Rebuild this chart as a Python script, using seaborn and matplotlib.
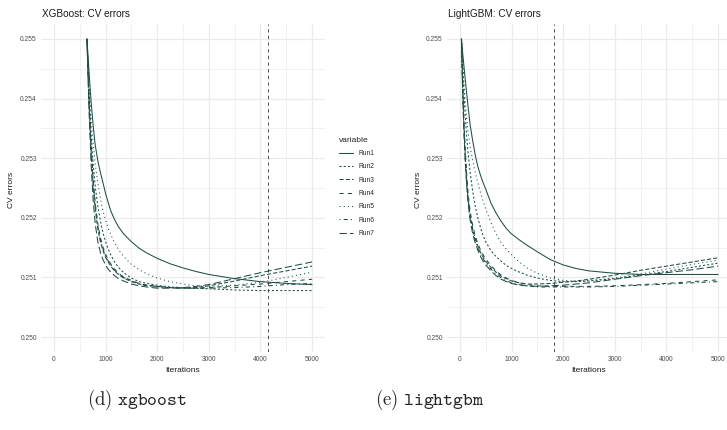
import matplotlib
matplotlib.use("Agg")
import matplotlib.pyplot as plt
import pandas as pd
import seaborn as sns

# ---------------------------------------------------------------- data
runs = ["Run1", "Run2", "Run3", "Run4", "Run5", "Run6", "Run7"]

xgb_iter = [640, 680, 720, 760, 800, 850, 900, 950, 1000, 1050, 1100, 1175, 1250,
            1350, 1500, 1650, 1800, 2000, 2250, 2500, 2750, 3000, 3500, 4000, 4500, 5000]
xgb_run1 = [0.25500, 0.25445, 0.25395, 0.25355, 0.25322, 0.25296, 0.25276, 0.25259,
            0.25241, 0.25226, 0.25212, 0.25197, 0.25185, 0.25173, 0.25160, 0.25149,
            0.25141, 0.25132, 0.25123, 0.25116, 0.25110, 0.25105, 0.25098, 0.25093,
            0.25090, 0.25088]
xgb_run2 = [0.25500, 0.25410, 0.25340, 0.25290, 0.25253, 0.25220, 0.25195, 0.25175,
            0.25160, 0.25148, 0.25138, 0.25126, 0.25117, 0.25108, 0.25099, 0.25093,
            0.25090, 0.25087, 0.25084, 0.25083, 0.25082, 0.25081, 0.25079, 0.25078,
            0.25078, 0.25078]
xgb_run3 = [0.25500, 0.25390, 0.25310, 0.25255, 0.25215, 0.25182, 0.25160, 0.25145,
            0.25134, 0.25126, 0.25119, 0.25111, 0.25105, 0.25099, 0.25093, 0.25089,
            0.25087, 0.25085, 0.25083, 0.25082, 0.25083, 0.25086, 0.25094, 0.25103,
            0.25111, 0.25119]
xgb_run4 = [0.25500, 0.25400, 0.25320, 0.25265, 0.25225, 0.25190, 0.25167, 0.25151,
            0.25139, 0.25130, 0.25123, 0.25114, 0.25107, 0.25101, 0.25095, 0.25090,
            0.25087, 0.25085, 0.25083, 0.25082, 0.25082, 0.25083, 0.25086, 0.25089,
            0.25093, 0.25097]
xgb_run5 = [0.25500, 0.25430, 0.25370, 0.25325, 0.25290, 0.25259, 0.25233, 0.25212,
            0.25196, 0.25183, 0.25172, 0.25158, 0.25147, 0.25135, 0.25122, 0.25113,
            0.25106, 0.25099, 0.25093, 0.25089, 0.25086, 0.25085, 0.25087, 0.25092,
            0.25100, 0.25109]
xgb_run6 = [0.25500, 0.25395, 0.25315, 0.25260, 0.25220, 0.25186, 0.25163, 0.25148,
            0.25136, 0.25128, 0.25121, 0.25112, 0.25106, 0.25100, 0.25094, 0.25089,
            0.25086, 0.25084, 0.25083, 0.25082, 0.25082, 0.25082, 0.25083, 0.25085,
            0.25088, 0.25090]
xgb_run7 = [0.25500, 0.25380, 0.25290, 0.25230, 0.25190, 0.25160, 0.25142, 0.25130,
            0.25121, 0.25114, 0.25109, 0.25103, 0.25098, 0.25094, 0.25089, 0.25086,
            0.25084, 0.25082, 0.25082, 0.25083, 0.25085, 0.25088, 0.25098, 0.25108,
            0.25117, 0.25126]

lgb_iter = [30, 50, 75, 100, 130, 160, 200, 250, 300, 350, 400, 450, 500, 600, 700,
            800, 900, 1000, 1150, 1300, 1500, 1750, 2000, 2250, 2500, 3000, 3500,
            4000, 4500, 5000]
lgb_run1 = [0.25500, 0.25480, 0.25457, 0.25435, 0.25410, 0.25385, 0.25355, 0.25328,
            0.25304, 0.25285, 0.25271, 0.25259, 0.25248, 0.25225, 0.25208, 0.25194,
            0.25182, 0.25173, 0.25163, 0.25154, 0.25143, 0.25130, 0.25121, 0.25115,
            0.25111, 0.25107, 0.25105, 0.25105, 0.25105, 0.25105]
lgb_run2 = [0.25500, 0.25460, 0.25415, 0.25375, 0.25338, 0.25307, 0.25275, 0.25243,
            0.25218, 0.25199, 0.25183, 0.25170, 0.25160, 0.25145, 0.25135, 0.25127,
            0.25120, 0.25115, 0.25109, 0.25104, 0.25099, 0.25095, 0.25093, 0.25093,
            0.25094, 0.25098, 0.25104, 0.25110, 0.25117, 0.25124]
lgb_run3 = [0.25500, 0.25430, 0.25360, 0.25310, 0.25265, 0.25232, 0.25203, 0.25180,
            0.25164, 0.25152, 0.25142, 0.25134, 0.25127, 0.25117, 0.25109, 0.25102,
            0.25098, 0.25094, 0.25091, 0.25089, 0.25089, 0.25090, 0.25092, 0.25094,
            0.25097, 0.25104, 0.25112, 0.25119, 0.25126, 0.25133]
lgb_run4 = [0.25500, 0.25435, 0.25370, 0.25320, 0.25275, 0.25240, 0.25210, 0.25186,
            0.25169, 0.25156, 0.25146, 0.25138, 0.25131, 0.25120, 0.25111, 0.25104,
            0.25099, 0.25095, 0.25091, 0.25088, 0.25086, 0.25085, 0.25085, 0.25085,
            0.25085, 0.25086, 0.25088, 0.25090, 0.25093, 0.25096]
lgb_run5 = [0.25500, 0.25468, 0.25432, 0.25400, 0.25368, 0.25343, 0.25318, 0.25295,
            0.25275, 0.25258, 0.25242, 0.25228, 0.25215, 0.25192, 0.25173, 0.25158,
            0.25147, 0.25138, 0.25126, 0.25116, 0.25107, 0.25099, 0.25095, 0.25094,
            0.25095, 0.25099, 0.25106, 0.25114, 0.25122, 0.25129]
lgb_run6 = [0.25500, 0.25425, 0.25355, 0.25305, 0.25260, 0.25228, 0.25200, 0.25177,
            0.25161, 0.25149, 0.25139, 0.25131, 0.25124, 0.25114, 0.25106, 0.25099,
            0.25094, 0.25091, 0.25088, 0.25086, 0.25084, 0.25084, 0.25084, 0.25084,
            0.25084, 0.25085, 0.25087, 0.25089, 0.25091, 0.25093]
lgb_run7 = [0.25500, 0.25420, 0.25350, 0.25300, 0.25255, 0.25223, 0.25195, 0.25172,
            0.25157, 0.25145, 0.25135, 0.25127, 0.25121, 0.25111, 0.25103, 0.25097,
            0.25093, 0.25090, 0.25087, 0.25086, 0.25085, 0.25086, 0.25087, 0.25089,
            0.25091, 0.25097, 0.25103, 0.25108, 0.25113, 0.25119]

xgb_best_iter = 4150
lgb_best_iter = 1830

x_ticks = [0, 1000, 2000, 3000, 4000, 5000]
x_minor = [500, 1500, 2500, 3500, 4500]
y_ticks = [0.250, 0.251, 0.252, 0.253, 0.254, 0.255]
y_minor = [0.2505, 0.2515, 0.2525, 0.2535, 0.2545]
y_tick_labels = ["0.250", "0.251", "0.252", "0.253", "0.254", "0.255"]


def long_table(iters, series):
    frames = [pd.DataFrame({"Iterations": iters, "CV errors": vals, "variable": name})
              for name, vals in zip(runs, series)]
    return pd.concat(frames, ignore_index=True)


xgb_df = long_table(xgb_iter, [xgb_run1, xgb_run2, xgb_run3, xgb_run4,
                               xgb_run5, xgb_run6, xgb_run7])
lgb_df = long_table(lgb_iter, [lgb_run1, lgb_run2, lgb_run3, lgb_run4,
                               lgb_run5, lgb_run6, lgb_run7])

# ---------------------------------------------------------------- style
sns.set_theme(style="white")
plt.rcParams["font.family"] = ["Liberation Sans", "DejaVu Sans"]
plt.rcParams["mathtext.fontset"] = "cm"

LINE = "#1f4e47"
GRID = "#EBEBEB"
TICK = "#4D4D4D"
# ggplot-like linetypes: solid, 22, 42, 44, 13, 1343, 73
dash_list = ["", (2, 2), (4, 2), (4, 4), (1, 3), (1, 3, 4, 3), (7, 3)]

W, H = 727, 430
fig = plt.figure(figsize=(W / 100, H / 100), dpi=100)


def px_box(x0, x1, ytop, ybot):
    return [x0 / W, 1 - ybot / H, (x1 - x0) / W, (ybot - ytop) / H]


def panel(box, df, best, title, title_x, ylab_x, legend):
    ax = fig.add_axes(box)
    sns.lineplot(data=df, x="Iterations", y="CV errors", style="variable",
                 dashes=dash_list, color=LINE, linewidth=0.75, ax=ax,
                 legend=legend, sort=False)
    ax.axvline(best, color="#333333", linewidth=0.6, linestyle=(0, (4, 4)))
    ax.set_xlim(-250, 5250)
    ax.set_ylim(0.24975, 0.25525)
    ax.set_xticks(x_ticks)
    ax.set_xticks(x_minor, minor=True)
    ax.set_yticks(y_ticks)
    ax.set_yticklabels(y_tick_labels)
    ax.set_yticks(y_minor, minor=True)
    ax.grid(which="major", color=GRID, linewidth=0.9)
    ax.grid(which="minor", color=GRID, linewidth=0.5)
    ax.set_axisbelow(True)
    for s in ax.spines.values():
        s.set_visible(False)
    ax.tick_params(which="both", length=0, labelsize=4.8, labelcolor=TICK, pad=3)
    ax.set_xlabel("")
    ax.set_ylabel("")
    fig.text(title_x / W, 1 - 14 / H, title, ha="left", va="center",
             fontsize=7.2, color="#1a1a1a")
    fig.text(ylab_x / W, 1 - 190 / H, "CV errors", rotation=90, ha="center",
             va="center", fontsize=6, color="#1a1a1a")
    fig.text(box[0] + box[2] * 0.5, 1 - 370 / H, "Iterations",
             ha="center", va="center", fontsize=6, color="#1a1a1a")
    return ax


ax1 = panel(px_box(41, 325, 24, 352), xgb_df, xgb_best_iter,
            "XGBoost: CV errors", 42, 12, True)
ax2 = panel(px_box(447, 731, 24, 352), lgb_df, lgb_best_iter,
            "LightGBM: CV errors", 448, 419, False)

handles, labels = ax1.get_legend_handles_labels()
ax1.get_legend().remove()
fig.legend(handles, labels, title="variable", loc="upper left",
           bbox_to_anchor=(334 / W, 1 - 132 / H), frameon=False,
           fontsize=4.8, title_fontsize=6, handlelength=2.2,
           labelspacing=0.95, alignment="left", borderpad=0.2,
           handletextpad=0.8)

fig.text(137 / W, 1 - 400 / H, r"$\mathrm{(d)}\ \mathtt{xgboost}$",
         ha="center", va="center", fontsize=13.5)
fig.text(430 / W, 1 - 400 / H, r"$\mathrm{(e)}\ \mathtt{lightgbm}$",
         ha="center", va="center", fontsize=13.5)

fig.savefig("out.png", dpi=100)
